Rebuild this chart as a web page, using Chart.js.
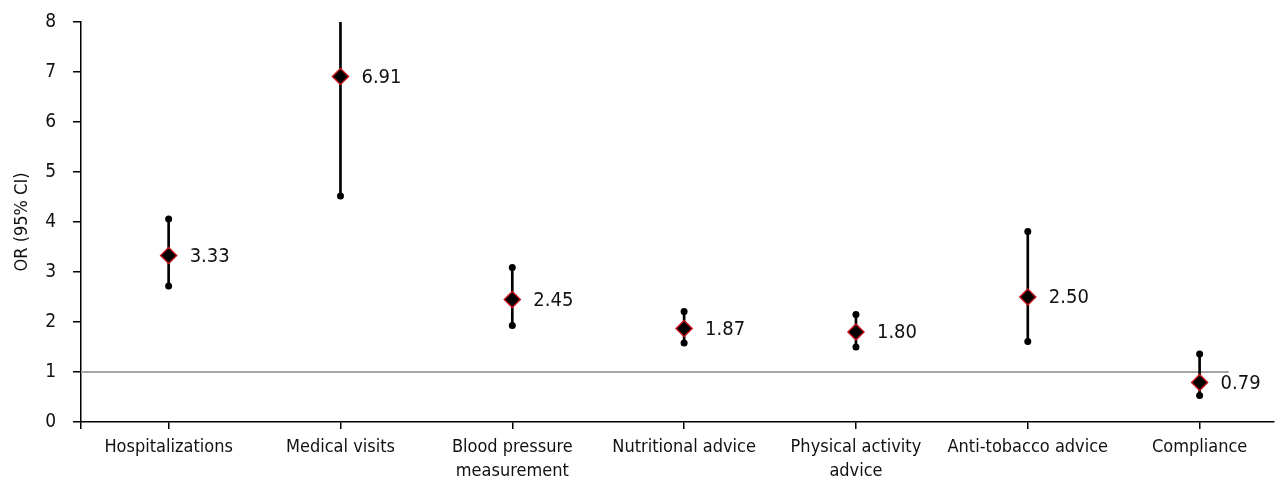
<!DOCTYPE html>
<html>
<head>
<meta charset="utf-8">
<script src="https://cdn.jsdelivr.net/npm/chart.js@4"></script>
<style>
  html, body { margin: 0; padding: 0; background: #fff; }
  #wrap { width: 1283px; height: 482px; }
</style>
</head>
<body>
<div id="wrap"><canvas id="chart"></canvas></div>
<script>
const categories = [
  'Hospitalizations',
  'Medical visits',
  ['Blood pressure', 'measurement'],
  'Nutritional advice',
  ['Physical activity', 'advice'],
  'Anti-tobacco advice',
  'Compliance',
];
const oddsRatios = [3.33, 6.91, 2.45, 1.87, 1.80, 2.50, 0.79];
const lowerCI = [2.72, 4.52, 1.93, 1.58, 1.50, 1.61, 0.53];
const upperCI = [4.06, 10.5, 3.09, 2.21, 2.15, 3.81, 1.36];
const yTicks = [0, 1, 2, 3, 4, 5, 6, 7, 8];
const refValue = 1;

const FONT = "'DejaVu Sans Condensed', 'DejaVu Sans', sans-serif";
const X_MIN = -0.51;
const X_MAX = 6.43;

const points = oddsRatios.map((v, i) => ({ x: i, y: v }));
const lows = lowerCI.map((v, i) => ({ x: i, y: v }));
const highs = upperCI.map((v, i) => ({ x: i, y: v }));
const whiskers = lowerCI.map((v, i) => ({ x: i, y: [v, upperCI[i]] }));

const valueLabels = {
  id: 'valueLabels',
  afterDatasetsDraw(chart) {
    const meta = chart.getDatasetMeta(0);
    const ctx = chart.ctx;
    ctx.save();
    ctx.font = '20px ' + FONT;
    ctx.fillStyle = '#111';
    ctx.textBaseline = 'middle';
    ctx.textAlign = 'left';
    meta.data.forEach((pt, i) => {
      ctx.fillText(oddsRatios[i].toFixed(2), pt.x + 21, pt.y + 1);
    });
    ctx.restore();
  },
};

new Chart(document.getElementById('chart'), {
  type: 'scatter',
  data: {
    datasets: [
      {
        label: 'OR',
        data: points,
        pointStyle: 'rectRot',
        pointRadius: 8,
        pointHoverRadius: 8,
        backgroundColor: '#000',
        borderColor: '#c0141c',
        borderWidth: 1.5,
        order: 1,
      },
      {
        label: 'Lower',
        data: lows,
        pointRadius: 3.5,
        backgroundColor: '#000',
        borderColor: '#000',
        borderWidth: 0,
        order: 2,
      },
      {
        label: 'Upper',
        data: highs,
        pointRadius: 3.5,
        backgroundColor: '#000',
        borderColor: '#000',
        borderWidth: 0,
        order: 2,
      },
      {
        type: 'bar',
        label: 'CI',
        data: whiskers,
        backgroundColor: '#000',
        barThickness: 2,
        order: 3,
      },
      {
        type: 'line',
        label: 'Reference',
        data: [{ x: X_MIN, y: refValue }, { x: 6.17, y: refValue }],
        borderColor: '#a6a6a6',
        borderWidth: 2,
        pointRadius: 0,
        order: 4,
      },
    ],
  },
  options: {
    responsive: true,
    maintainAspectRatio: false,
    animation: false,
    layout: { padding: { top: 22, right: 0, left: 0, bottom: 0 } },
    plugins: {
      legend: { display: false },
      tooltip: { enabled: false },
    },
    scales: {
      x: {
        type: 'linear',
        min: X_MIN,
        max: X_MAX,
        offset: false,
        bounds: 'ticks',
        afterBuildTicks(scale) {
          scale.ticks = [X_MIN, 0, 1, 2, 3, 4, 5, 6].map((v) => ({ value: v }));
        },
        afterFit(scale) {
          scale.height = 60;
          scale.paddingLeft = 0;
          scale.paddingRight = 0;
        },
        ticks: {
          autoSkip: false,
          maxRotation: 0,
          padding: 7,
          color: '#111',
          font: { family: FONT, size: 18, lineHeight: 1.3 },
          callback: (v) => (Number.isInteger(v) && v >= 0 ? categories[v] : ''),
        },
        grid: {
          offset: false,
          drawOnChartArea: false,
          drawTicks: true,
          tickLength: 7,
          color: '#000',
          lineWidth: 1.5,
        },
        border: { display: true, color: '#000', width: 1.5 },
      },
      y: {
        min: 0,
        max: 8,
        afterBuildTicks(scale) {
          scale.ticks = yTicks.map((v) => ({ value: v }));
        },
        afterFit(scale) {
          scale.width = 81;
          scale.paddingTop = 0;
          scale.paddingBottom = 0;
        },
        title: {
          display: true,
          text: 'OR (95% CI)',
          color: '#111',
          font: { family: FONT, size: 18 },
          padding: { top: 12, bottom: 4 },
        },
        ticks: {
          padding: 17,
          color: '#111',
          font: { family: FONT, size: 19 },
        },
        grid: {
          drawOnChartArea: false,
          drawTicks: true,
          tickLength: 8,
          color: '#000',
          lineWidth: 1.5,
        },
        border: { display: true, color: '#000', width: 1.5 },
      },
    },
  },
  plugins: [valueLabels],
});
</script>
</body>
</html>
